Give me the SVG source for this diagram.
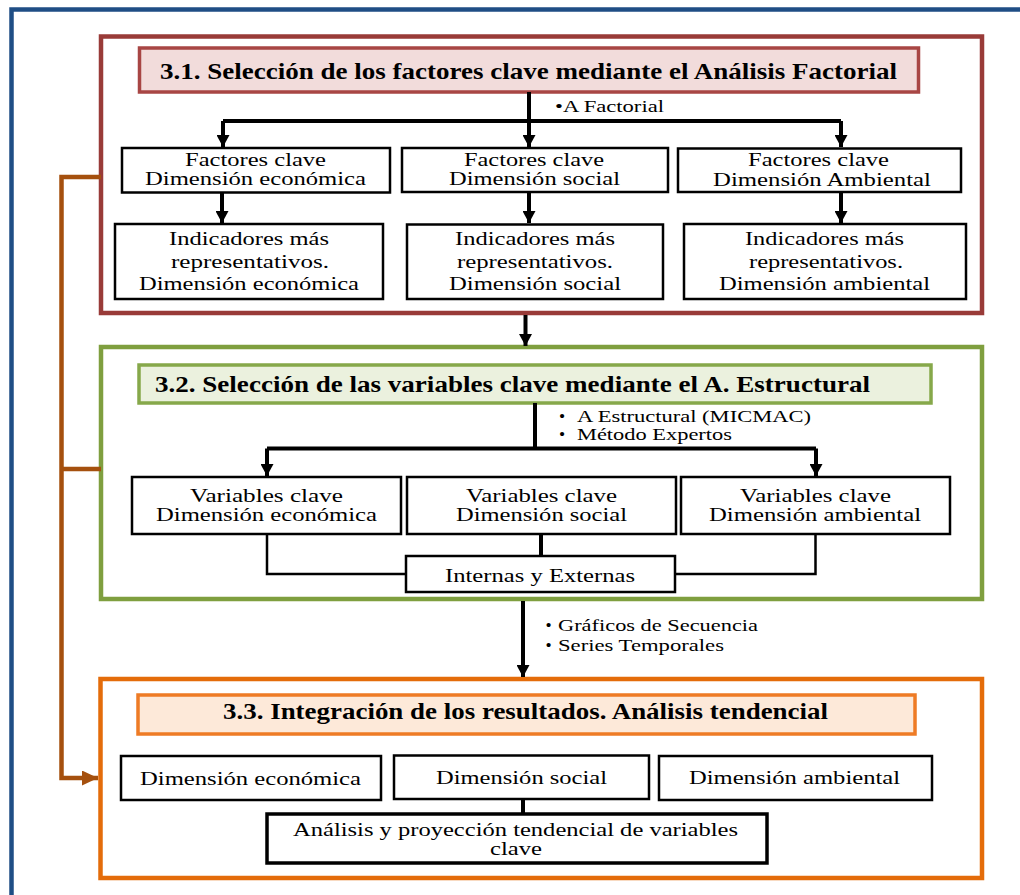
<svg xmlns="http://www.w3.org/2000/svg" width="1020" height="895" viewBox="0 0 1020 895">
<defs>
<style>
.t{font-family:"Liberation Serif","Times New Roman",serif;font-size:19.5px;fill:#000}
.s{font-family:"Liberation Serif","Times New Roman",serif;font-size:17.5px;fill:#000}
.h{font-family:"Liberation Serif","Times New Roman",serif;font-size:23px;font-weight:bold;fill:#000}
.b{fill:#fff;stroke:#000;stroke-width:2.5}
.c{fill:none;stroke:#000;stroke-width:4}
.thin{fill:none;stroke:#000;stroke-width:2.5}
</style>
<marker id="ah" markerUnits="userSpaceOnUse" markerWidth="13" markerHeight="13" refX="12" refY="6.5" orient="auto">
<path d="M0,0 L12,6.5 L0,13 z" fill="#000"/>
</marker>
<marker id="ahb" markerUnits="userSpaceOnUse" markerWidth="17" markerHeight="15" refX="16" refY="7.5" orient="auto">
<path d="M0,0 L16,7.5 L0,15 z" fill="#A5500E"/>
</marker>
</defs>
<rect width="1020" height="895" fill="#fff"/>
<path d="M11.5,900 V9.5 H1030" fill="none" stroke="#1F4E85" stroke-width="4.5"/>

<g id="sec31">
<rect x="101" y="36.5" width="881" height="276.5" fill="#fff" stroke="#993B38" stroke-width="4.5"/>
<rect x="139.5" y="48" width="779" height="44" fill="#F2DCDB" stroke="#A84644" stroke-width="3.5"/>
<text class="h" x="160" y="79" textLength="737" lengthAdjust="spacingAndGlyphs">3.1. Selección de los factores clave mediante el Análisis Factorial</text>
</g>
<g id="sec32">
<rect x="101" y="347" width="881" height="252" fill="#fff" stroke="#7F9F3F" stroke-width="4.5"/>
<rect x="139" y="365" width="792" height="38" fill="#EBF1DE" stroke="#86A84A" stroke-width="3.5"/>
<text class="h" x="155" y="392" textLength="715" lengthAdjust="spacingAndGlyphs">3.2. Selección de las variables clave mediante el A. Estructural</text>
</g>
<g id="sec33">
<rect x="100.5" y="679" width="881.5" height="199" fill="#fff" stroke="#E46C0A" stroke-width="4.5"/>
<rect x="138" y="695" width="777" height="39" fill="#FDE9D9" stroke="#EE7B25" stroke-width="3.5"/>
<text class="h" x="223" y="719" textLength="605" lengthAdjust="spacingAndGlyphs">3.3. Integración de los resultados. Análisis tendencial</text>
</g>

<g id="connectors">
<path class="c" d="M529,92 V121"/>
<path class="c" d="M223,121 H841"/>
<path class="c" d="M223,121 V147" marker-end="url(#ah)"/>
<path class="c" d="M529,121 V147" marker-end="url(#ah)"/>
<path class="c" d="M841,121 V147" marker-end="url(#ah)"/>
<path class="c" d="M222,193 V223" marker-end="url(#ah)"/>
<path class="c" d="M529,192 V223" marker-end="url(#ah)"/>
<path class="c" d="M841,192 V223" marker-end="url(#ah)"/>
<path class="c" d="M525.5,315 V346" marker-end="url(#ah)"/>
<path class="c" d="M535,403 V448.5"/>
<path class="c" d="M267,448.5 H816"/>
<path class="c" d="M267,448.5 V476" marker-end="url(#ah)"/>
<path class="c" d="M816,448.5 V476" marker-end="url(#ah)"/>
<path class="thin" d="M267,534 V574 H406"/>
<path class="c" d="M541,534 V556"/>
<path class="thin" d="M815.5,534 V574 H675"/>
<path class="c" d="M523,601 V677" marker-end="url(#ah)"/>
<path class="c" d="M523,799 V814"/>
<path d="M101,177 H61.5 V778 H98" fill="none" stroke="#A5500E" stroke-width="4.5" marker-end="url(#ahb)"/>
<path d="M101,469 H61.5" fill="none" stroke="#A5500E" stroke-width="4.5"/>
<text class="s" x="555" y="112" textLength="109" lengthAdjust="spacingAndGlyphs">•A Factorial</text>
<text class="s" x="562" y="421.5" text-anchor="middle">•</text>
<text class="s" x="577" y="421.5" textLength="234" lengthAdjust="spacingAndGlyphs">A Estructural (MICMAC)</text>
<text class="s" x="562" y="439.5" text-anchor="middle">•</text>
<text class="s" x="577" y="439.5" textLength="155" lengthAdjust="spacingAndGlyphs">Método Expertos</text>
<text class="s" x="548.5" y="631" text-anchor="middle">•</text>
<text class="s" x="558" y="631" textLength="200" lengthAdjust="spacingAndGlyphs">Gráficos de Secuencia</text>
<text class="s" x="548.5" y="651" text-anchor="middle">•</text>
<text class="s" x="558" y="651" textLength="166" lengthAdjust="spacingAndGlyphs">Series Temporales</text>
</g>

<g id="fac-eco">
<rect class="b" x="122" y="148" width="268" height="44.5"/>
<text class="t" x="185" y="166" textLength="141" lengthAdjust="spacingAndGlyphs">Factores clave</text>
<text class="t" x="145" y="185" textLength="221" lengthAdjust="spacingAndGlyphs">Dimensión económica</text>
</g>
<g id="fac-soc">
<rect class="b" x="402" y="148" width="266" height="44"/>
<text class="t" x="464" y="166" textLength="140" lengthAdjust="spacingAndGlyphs">Factores clave</text>
<text class="t" x="449" y="185" textLength="171" lengthAdjust="spacingAndGlyphs">Dimensión social</text>
</g>
<g id="fac-amb">
<rect class="b" x="678" y="148.5" width="283" height="43.5"/>
<text class="t" x="748" y="166" textLength="141" lengthAdjust="spacingAndGlyphs">Factores clave</text>
<text class="t" x="713" y="185.5" textLength="218" lengthAdjust="spacingAndGlyphs">Dimensión Ambiental</text>
</g>
<g id="ind-eco">
<rect class="b" x="115" y="224" width="268" height="75"/>
<text class="t" x="169" y="245" textLength="160" lengthAdjust="spacingAndGlyphs">Indicadores más</text>
<text class="t" x="171" y="267.5" textLength="158" lengthAdjust="spacingAndGlyphs">representativos.</text>
<text class="t" x="139" y="290" textLength="220" lengthAdjust="spacingAndGlyphs">Dimensión económica</text>
</g>
<g id="ind-soc">
<rect class="b" x="407" y="224.5" width="256" height="74.5"/>
<text class="t" x="455" y="245" textLength="160" lengthAdjust="spacingAndGlyphs">Indicadores más</text>
<text class="t" x="457" y="267.5" textLength="156" lengthAdjust="spacingAndGlyphs">representativos.</text>
<text class="t" x="449" y="290" textLength="172" lengthAdjust="spacingAndGlyphs">Dimensión social</text>
</g>
<g id="ind-amb">
<rect class="b" x="684" y="224" width="282" height="75"/>
<text class="t" x="745" y="245" textLength="159" lengthAdjust="spacingAndGlyphs">Indicadores más</text>
<text class="t" x="749" y="267.5" textLength="154" lengthAdjust="spacingAndGlyphs">representativos.</text>
<text class="t" x="719" y="290" textLength="211" lengthAdjust="spacingAndGlyphs">Dimensión ambiental</text>
</g>

<g id="var-eco">
<rect class="b" x="132" y="477" width="269" height="57"/>
<text class="t" x="190" y="502" textLength="153" lengthAdjust="spacingAndGlyphs">Variables clave</text>
<text class="t" x="156" y="521" textLength="221" lengthAdjust="spacingAndGlyphs">Dimensión económica</text>
</g>
<g id="var-soc">
<rect class="b" x="407" y="477" width="269" height="57"/>
<text class="t" x="466" y="502" textLength="151" lengthAdjust="spacingAndGlyphs">Variables clave</text>
<text class="t" x="456" y="521" textLength="171" lengthAdjust="spacingAndGlyphs">Dimensión social</text>
</g>
<g id="var-amb">
<rect class="b" x="681" y="477" width="269" height="57"/>
<text class="t" x="740" y="502" textLength="151" lengthAdjust="spacingAndGlyphs">Variables clave</text>
<text class="t" x="709" y="521" textLength="212" lengthAdjust="spacingAndGlyphs">Dimensión ambiental</text>
</g>
<g id="internas">
<rect class="b" x="406" y="556" width="269" height="36"/>
<text class="t" x="445" y="582" textLength="190" lengthAdjust="spacingAndGlyphs">Internas y Externas</text>
</g>

<g id="dim-eco">
<rect class="b" x="121" y="756" width="260" height="44"/>
<text class="t" x="140" y="784.5" textLength="221" lengthAdjust="spacingAndGlyphs">Dimensión económica</text>
</g>
<g id="dim-soc">
<rect class="b" x="394" y="755.5" width="255" height="43.5"/>
<text class="t" x="436" y="784" textLength="171" lengthAdjust="spacingAndGlyphs">Dimensión social</text>
</g>
<g id="dim-amb">
<rect class="b" x="659" y="756" width="273" height="44"/>
<text class="t" x="689" y="784" textLength="211" lengthAdjust="spacingAndGlyphs">Dimensión ambiental</text>
</g>
<g id="analisis">
<rect x="267" y="814" width="500" height="49" fill="#fff" stroke="#000" stroke-width="3.5"/>
<text class="t" x="293" y="836" textLength="445" lengthAdjust="spacingAndGlyphs">Análisis y proyección tendencial de variables</text>
<text class="t" x="490" y="855" textLength="52" lengthAdjust="spacingAndGlyphs">clave</text>
</g>
</svg>
